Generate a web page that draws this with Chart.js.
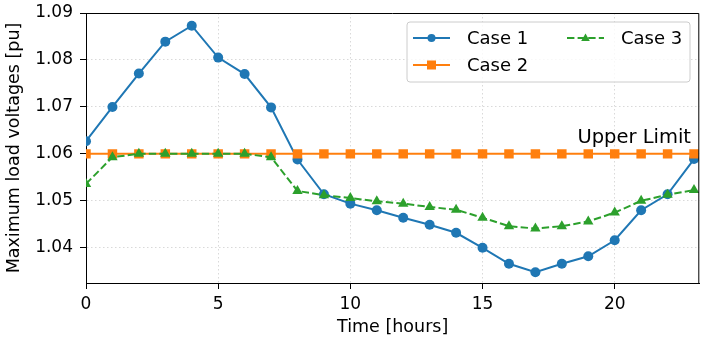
<!DOCTYPE html>
<html>
<head>
<meta charset="utf-8">
<script src="https://cdn.jsdelivr.net/npm/chart.js@4.4.0/dist/chart.umd.min.js"></script>
<style>
  html, body { margin: 0; padding: 0; background: #fff; }
  #wrap { width: 706px; height: 343px; }
</style>
</head>
<body>
<div id="wrap"><canvas id="voltChart"></canvas></div>
<script>
// data
const hours = [0,1,2,3,4,5,6,7,8,9,10,11,12,13,14,15,16,17,18,19,20,21,22,23];
const case1 = [1.0627,1.0700,1.0771,1.0839,1.0873,1.0805,1.0770,1.0699,1.0588,1.0514,1.0494,1.0480,
               1.0464,1.0449,1.0432,1.0400,1.0366,1.0348,1.0366,1.0382,1.0416,1.0480,1.0514,1.0589];
const case2 = [1.06,1.06,1.06,1.06,1.06,1.06,1.06,1.06,1.06,1.06,1.06,1.06,
               1.06,1.06,1.06,1.06,1.06,1.06,1.06,1.06,1.06,1.06,1.06,1.06];
const case3 = [1.0536,1.0593,1.0600,1.0600,1.0600,1.0600,1.0600,1.0593,1.0521,1.0512,1.0506,1.0499,
               1.0494,1.0487,1.0481,1.0464,1.0446,1.0441,1.0446,1.0456,1.0475,1.0500,1.0513,1.0523];
const xTicks = [0, 5, 10, 15, 20];
const yTicks = [1.04, 1.05, 1.06, 1.07, 1.08, 1.09];
const upperLimit = 1.06;

const FONT = 'DejaVu Sans';
const toXY = (arr) => arr.map((v, i) => ({ x: hours[i], y: v }));

// frame, legend and the "Upper Limit" label
const extras = {
    id: 'extras',
    afterDraw(chart) {
        const c = chart.ctx;
        const a = chart.chartArea;
        const xs = chart.scales.x, ys = chart.scales.y;

        c.save();
        // top + right spines
        c.strokeStyle = '#000';
        c.lineWidth = 1;
        c.beginPath();
        c.moveTo(a.left, a.top + 0.5);
        c.lineTo(a.right - 0.5, a.top + 0.5);
        c.lineTo(a.right - 0.5, a.bottom);
        c.stroke();

        // upper limit text
        c.fillStyle = '#000';
        c.font = '19.5px ' + FONT;
        c.textAlign = 'right';
        c.textBaseline = 'alphabetic';
        c.fillText('Upper Limit', xs.getPixelForValue(23) - 3, ys.getPixelForValue(upperLimit) - 11);

        // legend box
        const bx = 407, by = 22, bw = 283, bh = 60;
        c.beginPath();
        c.roundRect(bx, by, bw, bh, 3);
        c.fillStyle = 'rgba(255,255,255,0.8)';
        c.fill();
        c.strokeStyle = '#cccccc';
        c.stroke();

        const items = [
            { ds: 0, x: 413, y: 38 },
            { ds: 1, x: 413, y: 65 },
            { ds: 2, x: 567, y: 38 }
        ];
        items.forEach(it => {
            const d = chart.data.datasets[it.ds];
            c.strokeStyle = d.borderColor;
            c.lineWidth = d.borderWidth;
            c.setLineDash(d.borderDash || []);
            c.beginPath();
            c.moveTo(it.x, it.y);
            c.lineTo(it.x + 37, it.y);
            c.stroke();
            c.setLineDash([]);
            const cx = it.x + 18.5;
            c.fillStyle = d.pointBackgroundColor;
            c.beginPath();
            if (d.pointStyle === 'circle') {
                c.arc(cx, it.y, 4, 0, Math.PI * 2);
            } else if (d.pointStyle === 'rect') {
                c.rect(cx - 4.5, it.y - 4.5, 9, 9);
            } else {
                c.moveTo(cx, it.y - 4.5);
                c.lineTo(cx + 4.3, it.y + 3);
                c.lineTo(cx - 4.3, it.y + 3);
                c.closePath();
            }
            c.fill();
            c.fillStyle = '#000';
            c.font = '18px ' + FONT;
            c.textAlign = 'left';
            c.textBaseline = 'middle';
            c.fillText(d.label, it.x + 54, it.y + 1);
        });
        c.restore();
    }
};

const ctx = document.getElementById('voltChart').getContext('2d');
new Chart(ctx, {
    type: 'line',
    data: {
        datasets: [{
            label: 'Case 1',
            data: toXY(case1),
            borderColor: '#1f77b4',
            backgroundColor: '#1f77b4',
            pointBackgroundColor: '#1f77b4',
            pointBorderColor: '#1f77b4',
            borderWidth: 2,
            pointStyle: 'circle',
            pointRadius: 5,
            pointBorderWidth: 0,
            order: 2
        }, {
            label: 'Case 2',
            data: toXY(case2),
            borderColor: '#ff7f0e',
            backgroundColor: '#ff7f0e',
            pointBackgroundColor: '#ff7f0e',
            pointBorderColor: '#ff7f0e',
            borderWidth: 2,
            pointStyle: 'rect',
            pointRadius: 6.7,
            pointBorderWidth: 0,
            order: 1
        }, {
            label: 'Case 3',
            data: toXY(case3),
            borderColor: '#2ca02c',
            backgroundColor: '#2ca02c',
            pointBackgroundColor: '#2ca02c',
            pointBorderColor: '#2ca02c',
            borderWidth: 2,
            borderDash: [7.4, 3.2],
            pointStyle: 'triangle',
            pointRadius: 6,
            pointBorderWidth: 0,
            order: 0
        }]
    },
    options: {
        responsive: true,
        maintainAspectRatio: false,
        animation: false,
        devicePixelRatio: 1,
        layout: { padding: { left: 0, top: 13, right: 6, bottom: 0 } },
        plugins: {
            legend: { display: false },
            tooltip: { enabled: false }
        },
        scales: {
            x: {
                type: 'linear',
                min: 0,
                max: 23.2,
                afterBuildTicks: (s) => { s.ticks = xTicks.map(v => ({ value: v })); },
                afterFit: (s) => { s.height = 60; s.paddingLeft = 0; s.paddingRight = 0; },
                ticks: {
                    color: '#000',
                    font: { family: FONT, size: 17 },
                    padding: 5,
                    maxRotation: 0
                },
                grid: {
                    color: '#d9d9d9',
                    tickColor: '#000',
                    tickLength: 6,
                    tickBorderDash: [],
                    lineWidth: 1
                },
                border: { color: '#000', width: 1, dash: [1.5, 2.5] },
                title: {
                    display: true,
                    text: 'Time [hours]',
                    color: '#000',
                    font: { family: FONT, size: 17.5 },
                    padding: { top: 2, bottom: 5 }
                }
            },
            y: {
                min: 1.0325,
                max: 1.09,
                afterBuildTicks: (s) => { s.ticks = yTicks.map(v => ({ value: v })); },
                afterFit: (s) => { s.width = 86; s.paddingTop = 0; s.paddingBottom = 0; },
                ticks: {
                    color: '#000',
                    font: { family: FONT, size: 17 },
                    padding: 7,
                    callback: (v) => v.toFixed(2)
                },
                grid: {
                    color: '#d9d9d9',
                    tickColor: '#000',
                    tickLength: 6,
                    tickBorderDash: [],
                    lineWidth: 1
                },
                border: { color: '#000', width: 1, dash: [1.5, 2.5] },
                title: {
                    display: true,
                    text: 'Maximum load voltages [pu]',
                    color: '#000',
                    font: { family: FONT, size: 17.5 },
                    padding: { top: 4, bottom: 0 }
                }
            }
        }
    },
    plugins: [extras]
});
</script>
</body>
</html>
